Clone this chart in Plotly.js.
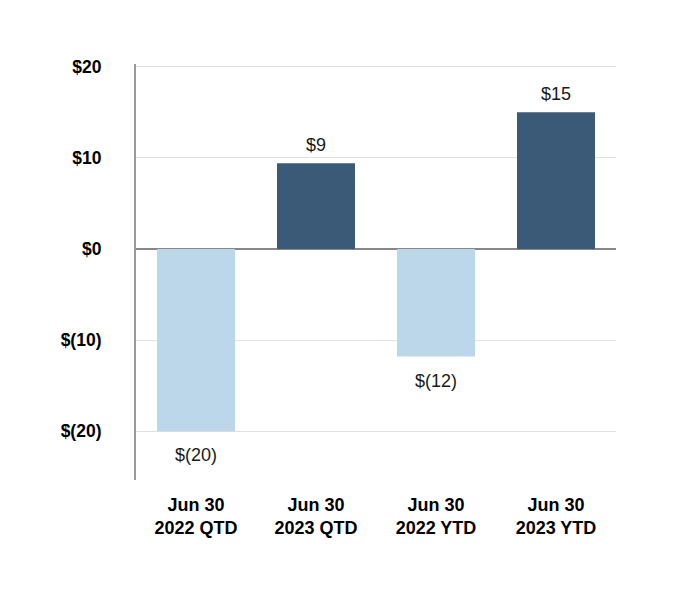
<!DOCTYPE html>
<html>
<head>
<meta charset="utf-8">
<script src="https://cdn.plot.ly/plotly-3.0.1.min.js"></script>
<style>html,body{margin:0;padding:0;background:#fff;}</style>
</head>
<body>
<div id="chart" style="width:680px;height:600px;"></div>
<script>
const categories = ["Jun 30<br>2022 QTD", "Jun 30<br>2023 QTD", "Jun 30<br>2022 YTD", "Jun 30<br>2023 YTD"];
const values = [-20, 9.4, -11.8, 15];
const valueLabels = ["$(20)", "$9", "$(12)", "$15"];
const barColors = ["#BDD7EA", "#3B5A78", "#BDD7EA", "#3B5A78"];
const yTickVals = [-20, -10, 0, 10, 20];
const yTickText = ["$(20)", "$(10)", "$0", "$10", "$20"];

const trace = {
  type: "bar",
  x: categories,
  y: values,
  marker: {color: barColors},
  hoverinfo: "none"
};

const annotations = categories.map((c, i) => ({
  x: c, y: values[i], xref: "x", yref: "y",
  text: valueLabels[i], showarrow: false,
  yanchor: values[i] >= 0 ? "bottom" : "top",
  yshift: values[i] >= 0 ? 6 : -12,
  font: {family: "Arial, Liberation Sans, sans-serif", size: 18, color: "#1a1a1a"}
}));

const layout = {
  width: 680, height: 600,
  margin: {l: 136, r: 64, t: 64, b: 120},
  paper_bgcolor: "#fff", plot_bgcolor: "#fff",
  showlegend: false,
  bargap: 0.35,
  font: {family: "Arial, Liberation Sans, sans-serif", color: "#000"},
  xaxis: {
    showgrid: false, showline: false, zeroline: false,
    ticks: "", ticklabelstandoff: 12,
    tickfont: {family: "Arial, Liberation Sans, sans-serif", size: 18, color: "#000", weight: "bold"}
  },
  yaxis: {
    range: [-25.35, 20.3],
    tickvals: yTickVals, ticktext: yTickText,
    showgrid: true, gridcolor: "#e0e0e0", gridwidth: 1,
    zeroline: true, zerolinecolor: "#888", zerolinewidth: 2,
    showline: true, linecolor: "#999", linewidth: 2,
    ticks: "", ticklabelstandoff: 29,
    tickfont: {family: "Arial, Liberation Sans, sans-serif", size: 17.5, color: "#000", weight: "bold"}
  },
  annotations: annotations
};

Plotly.newPlot("chart", [trace], layout, {displayModeBar: false, staticPlot: true});
</script>
</body>
</html>
